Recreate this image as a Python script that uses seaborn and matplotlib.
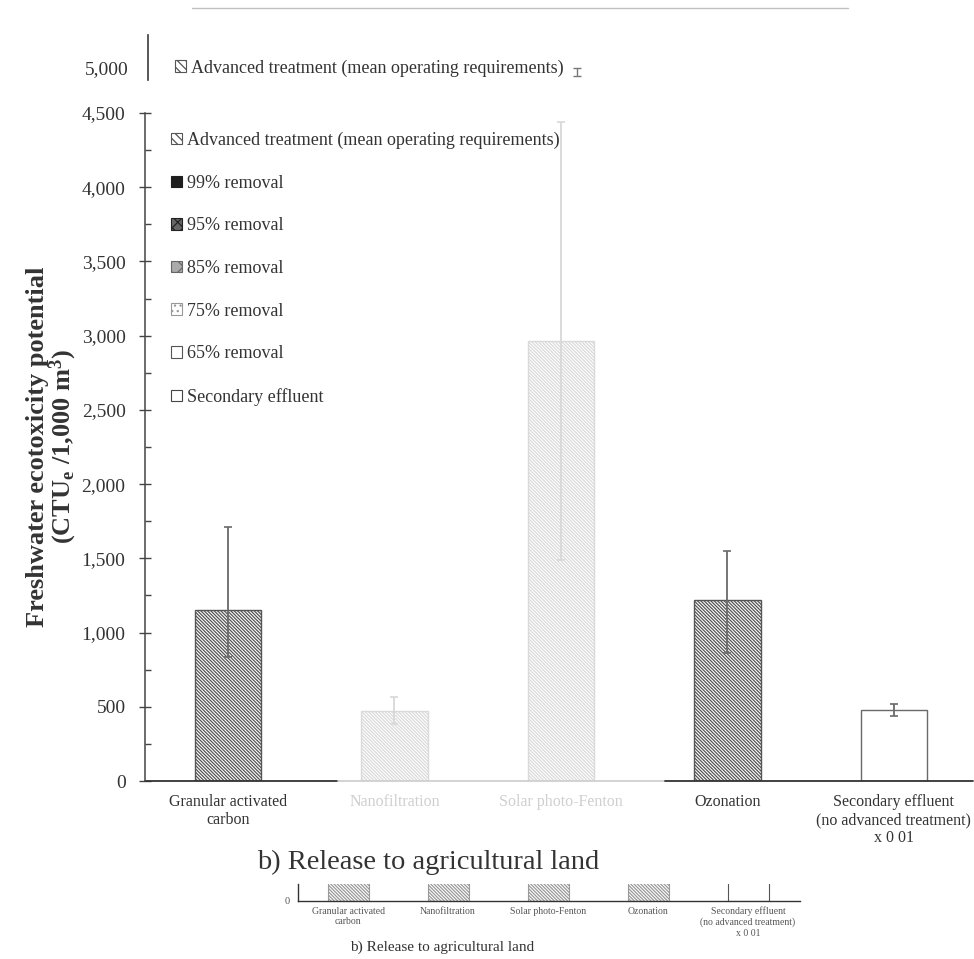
import numpy as np
import pandas as pd
import seaborn as sns
import matplotlib
matplotlib.use("Agg")
import matplotlib.pyplot as plt
from matplotlib.patches import Patch
from matplotlib.lines import Line2D
from matplotlib.ticker import FuncFormatter, MultipleLocator

# ---------------- data ----------------
categories = ["Granular activated\ncarbon", "Nanofiltration", "Solar photo-Fenton",
              "Ozonation", "Secondary effluent\n(no advanced treatment)\nx 0 01"]
mean_values = [1152, 472, 2965, 1222, 478]
err_lower = [835, 384, 1490, 862, 438]
err_upper = [1712, 566, 4440, 1550, 519]
y_ticks = [0, 500, 1000, 1500, 2000, 2500, 3000, 3500, 4000, 4500]
legend_labels = ["Advanced treatment (mean operating requirements)", "99% removal",
                 "95% removal", "85% removal", "75% removal", "65% removal",
                 "Secondary effluent"]
ghost_ticks = [5000]
ghost_err_lower = [4945]
ghost_err_upper = [5000]
mini_values = [1152, 472, 2965, 1222, 478]
title_text = "b) Release to agricultural land"
y_label = "Freshwater ecotoxicity potential\n(CTU$_\\mathregular{e}$ /1,000 m$^\\mathregular{3}$)"

# ---------------- styles ----------------
dense = "\\" * 10
bar_face = ["white", "white", "white", "white", "white"]
bar_edge = ["#555555", "#dadada", "#dadada", "#555555", "#6a6a6a"]
bar_hatch = [dense, dense, dense, dense, ""]
err_color = ["#6a6a6a", "#d8d8d8", "#d8d8d8", "#6a6a6a", "#6a6a6a"]
label_color = ["#333333", "#cfcfcf", "#cfcfcf", "#333333", "#333333"]

sns.set_theme(style="white")
plt.rcParams["font.family"] = ["Liberation Serif", "DejaVu Serif"]
plt.rcParams["mathtext.fontset"] = "custom"
plt.rcParams["mathtext.rm"] = "Liberation Serif"
plt.rcParams["mathtext.bf"] = "Liberation Serif:bold"
plt.rcParams["mathtext.default"] = "regular"
plt.rcParams["hatch.linewidth"] = 0.9

W, H = 974, 959
fig = plt.figure(figsize=(W / 100, H / 100), dpi=100)
fig.patch.set_facecolor("white")

# ---------------- main axes ----------------
ax = fig.add_axes([145 / W, (H - 781) / H, 828 / W, 668 / H])
df = pd.DataFrame({"cat": categories, "val": mean_values})
sns.barplot(data=df, x="cat", y="val", order=categories, ax=ax, width=0.4,
            color="white", errorbar=None)
for i, p in enumerate(ax.patches):
    p.set_facecolor(bar_face[i])
    p.set_edgecolor(bar_edge[i])
    p.set_hatch(bar_hatch[i])
    p.set_linewidth(1.0)

for i in range(len(categories)):
    m = mean_values[i]
    ax.errorbar([i], [m], yerr=[[m - err_lower[i]], [err_upper[i] - m]], fmt="none",
                ecolor=err_color[i], elinewidth=1.3, capsize=3, capthick=1.2, zorder=5)

ax.set_xlim(-0.4985, 4.475)
ax.set_ylim(0, 4500)
ax.set_yticks(y_ticks)
ax.yaxis.set_minor_locator(MultipleLocator(250))
ax.yaxis.set_major_formatter(FuncFormatter(lambda v, p: f"{v:,.0f}"))
ax.tick_params(axis="y", which="major", direction="inout", length=8, width=1,
               color="#444444", labelsize=14, pad=10, labelcolor="#333333", left=True)
ax.tick_params(axis="y", which="minor", direction="in", length=4, width=1,
               color="#444444", left=True)
ax.tick_params(axis="x", length=0, pad=9, labelsize=11.5)
for t, c in zip(ax.get_xticklabels(), label_color):
    t.set_color(c)
ax.set_xlabel("")
ax.set_ylabel(y_label, fontsize=19, fontweight="bold", color="#333333", labelpad=2,
              linespacing=0.92)
for s in ["top", "right", "bottom"]:
    ax.spines[s].set_visible(False)
ax.spines["left"].set_color("#444444")
ax.spines["left"].set_linewidth(1.1)
ax.axhline(0, 0, 0.233, color="#333333", lw=1.3, clip_on=False)
ax.axhline(0, 0.233, 0.628, color="#d0d0d0", lw=1.3, clip_on=False)
ax.axhline(0, 0.628, 1.0, color="#333333", lw=1.3, clip_on=False)

legend_styles = [
    dict(facecolor="white", edgecolor="#555555", hatch="\\\\\\\\"),
    dict(facecolor="#1e1e1e", edgecolor="#1e1e1e", hatch=""),
    dict(facecolor="#666666", edgecolor="#222222", hatch="xxx"),
    dict(facecolor="#aaaaaa", edgecolor="#666666", hatch="xx"),
    dict(facecolor="white", edgecolor="#999999", hatch="..."),
    dict(facecolor="white", edgecolor="#555555", hatch=""),
    dict(facecolor="white", edgecolor="#444444", hatch=""),
]
handles = [Patch(linewidth=0.8, **st) for st in legend_styles]
leg = ax.legend(handles, legend_labels, loc="upper left",
                bbox_to_anchor=(0.031, 0.972), frameon=False, fontsize=13,
                handlelength=0.6, handleheight=0.6, handletextpad=0.3,
                labelspacing=1.42, borderpad=0, borderaxespad=0)
for t in leg.get_texts():
    t.set_color("#333333")

fig.text(428 / W, 1 - 862 / H, title_text, ha="center", va="center",
         fontsize=20.5, color="#333333")

# ---------------- ghost strip on top ----------------
gax = fig.add_axes([148 / W, (H - 80) / H, 825 / W, 45 / H])
gax.set_ylim(4919, 5222)
gax.set_xlim(-0.577, 4.378)
gax.errorbar([2], [ghost_err_upper[0]],
             yerr=[[ghost_err_upper[0] - ghost_err_lower[0]], [0]],
             fmt="none", ecolor="#777777", elinewidth=1.0, capsize=3, capthick=1.0)
gax.set_yticks(ghost_ticks)
gax.yaxis.set_major_formatter(FuncFormatter(lambda v, p: f"{v:,.0f}"))
gax.tick_params(axis="y", direction="inout", length=8, width=1, color="#444444",
                labelsize=14, pad=10, labelcolor="#333333")
gax.set_xticks([])
for s in ["top", "right", "bottom"]:
    gax.spines[s].set_visible(False)
gax.spines["left"].set_color("#444444")
gax.set_facecolor("none")
gleg = gax.legend(handles[:1], legend_labels[:1], loc="center left",
                  bbox_to_anchor=(0.033, 0.27), frameon=False, fontsize=13,
                  handlelength=0.6, handleheight=0.6, handletextpad=0.3,
                  borderpad=0, borderaxespad=0)
for t in gleg.get_texts():
    t.set_color("#333333")
fig.add_artist(Line2D([192 / W, 848 / W], [1 - 8 / H, 1 - 8 / H], color="#c0c0c0", lw=1))

# ---------------- mini chart at the bottom ----------------
max_ = fig.add_axes([298 / W, (H - 901) / H, 502 / W, 17 / H])
mdf = pd.DataFrame({"cat": categories, "val": mini_values})
sns.barplot(data=mdf, x="cat", y="val", order=categories, ax=max_, width=0.41,
            color="white", errorbar=None)
mini_edge = ["#9a9a9a", "#9a9a9a", "#9a9a9a", "#9a9a9a", "#555555"]
mini_hatch = [dense, dense, dense, dense, ""]
for i, p in enumerate(max_.patches):
    p.set_facecolor("white")
    p.set_edgecolor(mini_edge[i])
    p.set_hatch(mini_hatch[i])
    p.set_linewidth(0.8)
max_.set_xlim(-0.5, 4.52)
max_.set_ylim(0, 400)
max_.set_yticks([0])
max_.tick_params(axis="y", direction="out", length=3, width=0.8, color="#444444",
                 labelsize=7.5, pad=3, labelcolor="#555555")
max_.tick_params(axis="x", length=0, pad=4, labelsize=7, labelcolor="#555555")
max_.set_xlabel("")
max_.set_ylabel("")
for s in ["top", "right"]:
    max_.spines[s].set_visible(False)
for s in ["left", "bottom"]:
    max_.spines[s].set_color("#333333")
    max_.spines[s].set_linewidth(1.0)
fig.text(442 / W, 1 - 947 / H, title_text, ha="center", va="center",
         fontsize=11, color="#333333")

fig.savefig("out.png", dpi=100, facecolor="white")
